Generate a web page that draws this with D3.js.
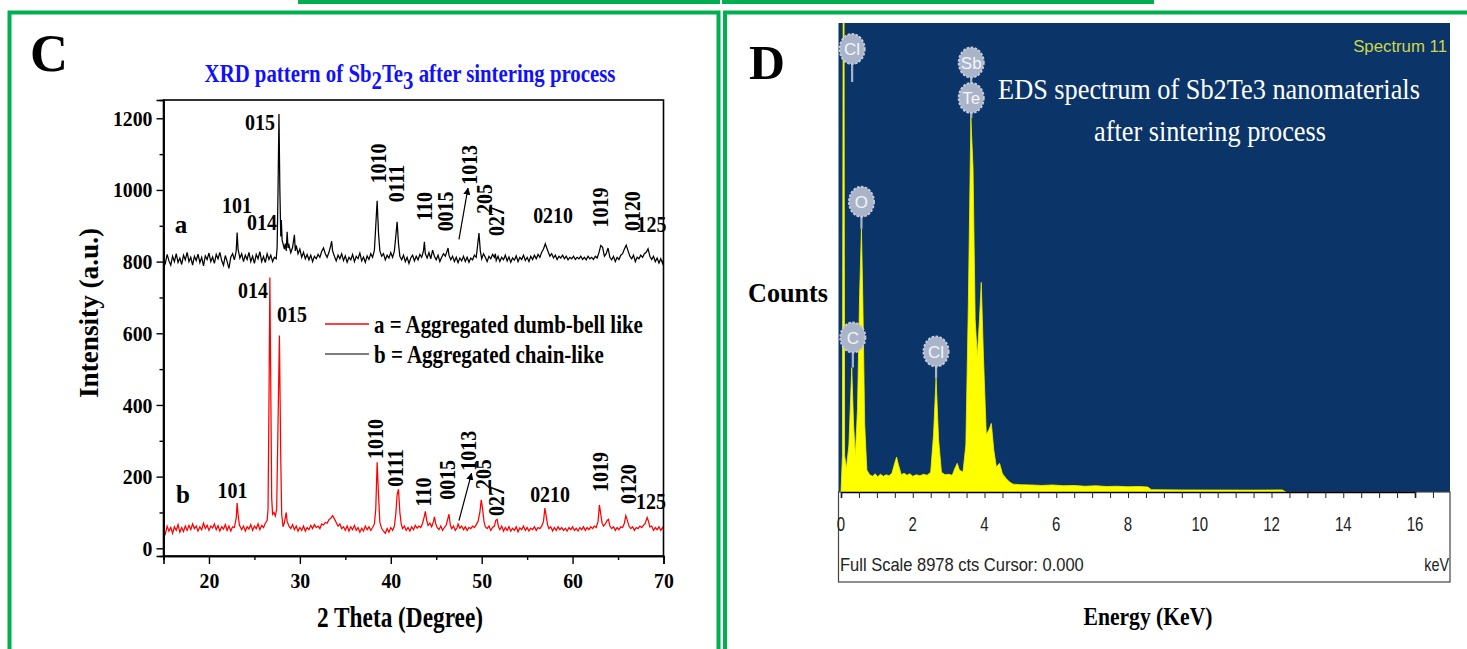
<!DOCTYPE html>
<html><head><meta charset="utf-8">
<script src="https://cdn.jsdelivr.net/npm/d3@7"></script>
<style>body{margin:0;background:#fff;} svg{display:block;}</style>
</head><body><svg id="c" width="1467" height="649"></svg>
<script>
// ---------------- DATA ----------------
const xrdTicksX = [20, 30, 40, 50, 60, 70];
const xrdMinorX = [15, 25, 35, 45, 55, 65];
const xrdTicksY = [0, 200, 400, 600, 800, 1000, 1200];
const xrdMinorY = [100, 300, 500, 700, 900, 1100];

// black trace (top, "a" label)
const xrdBlack = [
[15.0,808],[15.2,795],[15.4,820],[15.6,802],[15.8,790],[16.0,815],[16.2,800],[16.4,822],[16.6,798],[16.8,810],
[17.0,792],[17.2,818],[17.4,805],[17.6,826],[17.8,800],[18.0,812],[18.2,790],[18.4,815],[18.6,803],[18.8,821],
[19.0,797],[19.2,812],[19.4,788],[19.6,816],[19.8,806],[20.0,824],[20.2,800],[20.4,813],[20.6,795],[20.8,820],
[21.0,808],[21.2,826],[21.4,803],[21.6,790],[21.8,817],[22.0,800],[22.2,781],[22.4,812],[22.6,822],[22.8,805],
[23.0,830],[23.1,881],[23.2,835],[23.4,810],[23.6,822],[23.8,800],[24.0,818],[24.2,806],[24.4,826],[24.6,800],
[24.8,815],[25.0,795],[25.2,820],[25.4,808],[25.6,828],[25.8,800],[26.0,814],[26.2,797],[26.4,822],[26.6,806],
[26.8,818],[27.0,800],[27.2,812],[27.4,808],[27.5,840],[27.6,1000],[27.7,1212],[27.8,1000],[27.9,870],[27.96,916],
[28.05,860],[28.2,845],[28.3,835],[28.4,850],[28.5,830],[28.6,883],[28.7,838],[28.8,846],[29.0,825],[29.2,840],
[29.4,875],[29.5,830],[29.6,845],[29.8,822],[30.0,835],[30.2,812],[30.4,826],[30.6,808],[30.8,820],[31.0,805],
[31.2,818],[31.4,800],[31.6,815],[31.8,808],[32.0,820],[32.2,812],[32.4,828],[32.6,838],[32.8,822],[33.0,812],
[33.2,826],[33.4,845],[33.5,857],[33.6,830],[33.8,815],[34.0,802],[34.2,818],[34.4,808],[34.6,822],[34.8,803],
[35.0,816],[35.2,798],[35.4,812],[35.6,805],[35.8,820],[36.0,800],[36.2,815],[36.4,808],[36.6,824],[36.8,802],
[37.0,813],[37.2,798],[37.4,816],[37.6,806],[37.8,822],[38.0,812],[38.2,832],[38.35,900],[38.5,970],[38.65,880],
[38.8,830],[39.0,815],[39.2,822],[39.4,805],[39.6,818],[39.8,810],[40.0,825],[40.2,812],[40.4,830],[40.55,870],
[40.7,911],[40.85,850],[41.0,815],[41.2,805],[41.4,818],[41.6,800],[41.8,812],[42.0,795],[42.2,810],[42.4,818],
[42.6,802],[42.8,815],[43.0,805],[43.2,820],[43.4,812],[43.6,830],[43.7,855],[43.8,822],[44.0,810],[44.2,825],
[44.4,808],[44.6,832],[44.8,815],[45.0,805],[45.2,818],[45.4,800],[45.6,812],[45.8,822],[46.0,815],[46.2,830],
[46.3,838],[46.4,818],[46.6,805],[46.8,815],[47.0,800],[47.2,812],[47.4,797],[47.6,810],[47.8,802],[48.0,815],
[48.2,800],[48.4,812],[48.6,798],[48.8,810],[49.0,805],[49.2,818],[49.4,812],[49.55,845],[49.7,880],[49.85,830],
[50.0,808],[50.2,822],[50.4,812],[50.6,800],[50.8,815],[51.0,808],[51.2,820],[51.4,812],[51.5,822],[51.6,803],
[51.8,815],[52.0,800],[52.2,812],[52.4,805],[52.6,818],[52.8,802],[53.0,813],[53.2,798],[53.4,810],[53.6,804],
[53.8,816],[54.0,800],[54.2,812],[54.4,806],[54.6,818],[54.8,803],[55.0,812],[55.2,800],[55.4,815],[55.6,806],
[55.8,818],[56.0,808],[56.2,820],[56.4,812],[56.6,826],[56.8,835],[57.0,850],[57.1,842],[57.3,828],[57.5,815],
[57.7,822],[57.9,810],[58.1,818],[58.3,806],[58.5,815],[58.7,810],[58.9,818],[59.1,808],[59.3,815],[59.5,805],
[59.7,812],[59.9,808],[60.1,815],[60.3,806],[60.5,812],[60.7,808],[60.9,815],[61.1,806],[61.3,812],[61.5,805],
[61.7,815],[61.9,808],[62.1,812],[62.3,806],[62.5,815],[62.7,810],[62.9,825],[63.1,845],[63.3,840],[63.5,815],
[63.7,822],[63.9,838],[64.1,812],[64.3,805],[64.5,815],[64.7,800],[64.9,812],[65.1,806],[65.3,818],[65.5,822],
[65.7,835],[65.9,846],[66.1,830],[66.3,815],[66.5,808],[66.7,818],[66.9,800],[67.1,812],[67.3,808],[67.5,818],
[67.7,812],[67.9,822],[68.1,826],[68.3,836],[68.5,815],[68.7,806],[68.9,815],[69.1,800],[69.3,810],[69.5,796],
[69.7,808],[69.9,795],[70.0,805]];

// red trace (bottom, "b" label)
const xrdRed = [
[15.0,52],[15.2,40],[15.4,62],[15.6,48],[15.8,58],[16.0,42],[16.2,60],[16.4,50],[16.6,66],[16.8,45],
[17.0,58],[17.2,47],[17.4,62],[17.6,50],[17.8,64],[18.0,52],[18.2,68],[18.4,55],[18.6,62],[18.8,48],
[19.0,60],[19.2,52],[19.4,70],[19.6,55],[19.8,64],[20.0,50],[20.2,62],[20.4,57],[20.6,68],[20.8,52],
[21.0,63],[21.2,48],[21.4,60],[21.6,54],[21.8,66],[22.0,50],[22.2,62],[22.4,48],[22.6,60],[22.8,58],
[23.0,85],[23.1,126],[23.2,95],[23.35,65],[23.6,52],[23.8,62],[24.0,48],[24.2,60],[24.4,54],[24.6,66],
[24.8,50],[25.0,62],[25.2,55],[25.4,68],[25.6,52],[25.8,64],[26.0,58],[26.2,70],[26.4,78],[26.5,110],
[26.6,400],[26.7,756],[26.8,450],[26.9,140],[27.0,95],[27.15,100],[27.3,90],[27.45,110],[27.6,350],[27.75,594],
[27.9,250],[28.0,95],[28.15,60],[28.3,72],[28.5,100],[28.6,75],[28.8,62],[29.0,55],[29.2,66],[29.4,52],
[29.6,62],[29.8,48],[30.0,58],[30.2,50],[30.4,62],[30.6,48],[30.8,58],[31.0,52],[31.2,64],[31.4,55],
[31.6,66],[31.8,58],[32.0,62],[32.2,55],[32.4,68],[32.6,65],[32.8,72],[33.0,70],[33.2,80],[33.4,84],
[33.6,91],[33.8,82],[34.0,72],[34.2,62],[34.4,68],[34.6,55],[34.8,60],[35.0,50],[35.2,62],[35.4,48],
[35.6,60],[35.8,52],[36.0,64],[36.2,50],[36.4,58],[36.6,45],[36.8,56],[37.0,48],[37.2,62],[37.4,52],
[37.6,60],[37.8,50],[38.0,58],[38.2,68],[38.35,110],[38.5,240],[38.65,150],[38.8,72],[39.0,55],[39.2,48],
[39.4,42],[39.6,55],[39.8,45],[40.0,58],[40.2,50],[40.4,62],[40.55,95],[40.7,150],[40.85,165],[41.0,100],
[41.15,68],[41.3,55],[41.5,62],[41.7,50],[41.9,58],[42.1,48],[42.3,60],[42.5,52],[42.7,64],[42.9,56],
[43.1,62],[43.3,58],[43.5,70],[43.7,90],[43.8,103],[43.95,78],[44.1,64],[44.3,70],[44.5,60],[44.7,75],
[44.8,88],[44.95,68],[45.1,58],[45.3,52],[45.5,62],[45.7,50],[45.9,58],[46.1,65],[46.3,85],[46.4,95],
[46.55,65],[46.7,55],[46.9,62],[47.1,50],[47.3,58],[47.4,68],[47.6,56],[47.8,62],[48.0,52],[48.2,60],
[48.4,50],[48.6,58],[48.8,55],[49.0,62],[49.2,58],[49.4,66],[49.6,75],[49.8,100],[49.95,135],[50.1,110],
[50.25,75],[50.4,60],[50.6,55],[50.8,62],[51.0,50],[51.2,58],[51.4,62],[51.55,78],[51.7,81],[51.85,60],
[52.0,52],[52.2,62],[52.4,48],[52.6,58],[52.8,50],[53.0,60],[53.2,48],[53.4,56],[53.6,50],[53.8,60],
[54.0,46],[54.2,57],[54.4,52],[54.6,62],[54.8,50],[55.0,58],[55.2,48],[55.4,56],[55.6,52],[55.8,60],
[56.0,50],[56.2,58],[56.4,55],[56.6,62],[56.8,75],[56.95,112],[57.1,90],[57.25,65],[57.4,55],[57.6,60],
[57.8,48],[58.0,58],[58.2,50],[58.4,60],[58.6,52],[58.8,58],[59.0,50],[59.2,56],[59.4,48],[59.6,58],
[59.8,52],[60.0,60],[60.2,50],[60.4,56],[60.6,48],[60.8,58],[61.0,52],[61.2,60],[61.4,50],[61.6,58],
[61.8,52],[62.0,60],[62.2,55],[62.4,62],[62.6,58],[62.8,75],[62.95,121],[63.1,95],[63.25,70],[63.4,62],
[63.6,68],[63.8,78],[63.95,81],[64.1,62],[64.3,55],[64.5,60],[64.7,50],[64.9,58],[65.1,52],[65.3,60],
[65.5,58],[65.7,70],[65.85,91],[66.0,80],[66.2,62],[66.4,55],[66.6,60],[66.8,50],[67.0,58],[67.2,55],
[67.4,62],[67.6,58],[67.8,64],[68.0,70],[68.2,86],[68.35,75],[68.5,60],[68.7,62],[68.9,50],[69.1,58],
[69.3,52],[69.5,60],[69.7,50],[69.9,58],[70.0,52]];

// peak labels: [text, 2theta, intensity, rotated]
const blackLabels = [
["015",25.62,1167,false],["101",23.09,936,false],["014",25.84,888,false],
["1010",39.44,1074,true],["0111",41.46,1018,true],["110",44.54,954,true],["0015",46.85,940,true],
["1013",49.44,1070,true],["205",51.10,975,true],["027",52.40,913,true],["0210",57.85,908,false],
["1019",63.90,951,true],["0120",67.42,941,true],["125",68.68,883,false]];
const redLabels = [
["101",22.59,140,false],["014",24.85,699,false],["015",29.14,632,false],
["1010",39.15,305,true],["0111",41.35,224,true],["110",44.43,157,true],["0015",47.03,191,true],
["1013",49.38,272,true],["205",51.03,207,true],["027",52.46,132,true],["0210",57.52,129,false],
["1019",63.90,213,true],["0120",66.98,179,true],["125",68.63,110,false]];
const seriesLetters = [["a",16.93,880],["b",17.15,126]];
const arrows = [[47.50,862,48.49,1005,"#000"],[47.50,77,48.88,209,"#000"]];
const legendText = ["a = Aggregated dumb-bell like", "b = Aggregated chain-like"];
const legendColors = ["#ff0000", "#555555"];

// EDS spectrum [keV, counts]
const edsTicks = [0, 2, 4, 6, 8, 10, 12, 14, 16];
const edsMinor = [0,0.5,1,1.5,2,2.5,3,3.5,4,4.5,5,5.5,6,6.5,7,7.5,8,8.5,9,9.5,10,10.5,11,11.5,12,12.5,13,13.5,14,14.5,15,15.5,16,16.5];
const edsSpectrum = [
[0.00,0],[0.04,700],[0.06,9500],[0.085,9500],[0.10,700],[0.15,450],[0.22,900],[0.30,2380],[0.35,1300],
[0.40,700],[0.46,1600],[0.52,3800],[0.57,5040],[0.61,3600],[0.66,1300],[0.72,420],[0.80,330],
[0.88,300],[0.95,350],[1.02,290],[1.10,340],[1.18,300],[1.26,330],[1.34,310],[1.42,360],
[1.50,560],[1.55,669],[1.60,520],[1.68,330],[1.76,360],[1.84,320],[1.92,350],[2.00,300],
[2.10,330],[2.20,310],[2.30,340],[2.40,320],[2.50,380],[2.58,1100],[2.65,2173],[2.72,1000],
[2.80,380],[2.90,330],[3.00,340],[3.10,320],[3.18,460],[3.24,548],[3.30,420],[3.40,380],
[3.48,900],[3.55,3600],[3.62,7160],[3.68,6200],[3.74,3300],[3.80,2600],[3.86,3300],[3.91,4013],
[3.97,2600],[4.05,1100],[4.13,1200],[4.19,1313],[4.26,800],[4.33,480],[4.42,548],[4.50,350],
[4.60,260],[4.70,190],[4.80,150],[5.0,140],[5.3,135],[5.6,125],[5.9,135],[6.2,120],[6.5,125],
[6.8,110],[7.1,120],[7.4,105],[7.7,110],[8.0,100],[8.3,105],[8.55,95],[8.65,45],[9.5,40],
[10.5,38],[11.5,36],[12.3,40],[12.4,0]];
// element markers: [symbol, keV, label counts, stem end counts]
const edsElements = [
["Cl",0.31,8479,7850],["Sb",3.63,8221,7700],["Te",3.63,7543,7160],
["O",0.57,5555,5040],["C",0.33,2957,2383],["Cl",2.65,2689,2173]];

// ---------------- DRAW ----------------
const SERIF = "'Liberation Serif','Times New Roman',serif";
const SANS = "'Liberation Sans',Arial,sans-serif";
const svg = d3.select("#c");

function txt(g, o) {
  const gg = g.append("g").attr("transform", `translate(${o.x},${o.y})` + (o.rot ? ` rotate(${o.rot})` : ""));
  const t = gg.append("text").attr("text-anchor", o.anchor || "start")
    .attr("font-family", o.family || SERIF).attr("font-size", o.size)
    .attr("font-weight", o.weight || "bold").attr("fill", o.fill || "#000");
  if (o.parts) o.parts.forEach(p => { const s = t.append("tspan").text(p[0]); if (p[1]) s.attr("dy", p[1]); });
  else t.text(o.text);
  let sx = o.sx || 1;
  if (o.width) { const w = t.node().getBBox().width; sx = o.width / w; }
  t.attr("transform", `scale(${sx},1)`);
  return t;
}

// green frames
const GREEN = "#00b050";
svg.append("rect").attr("x", 300).attr("y", -40).attr("width", 418).attr("height", 42).attr("fill", "none").attr("stroke", GREEN).attr("stroke-width", 4);
svg.append("rect").attr("x", 724).attr("y", -40).attr("width", 428).attr("height", 42).attr("fill", "none").attr("stroke", GREEN).attr("stroke-width", 4);
svg.append("rect").attr("x", 9.5).attr("y", 12.5).attr("width", 709).attr("height", 700).attr("fill", "none").attr("stroke", GREEN).attr("stroke-width", 4);
svg.append("rect").attr("x", 725).attr("y", 12.5).attr("width", 800).attr("height", 700).attr("fill", "none").attr("stroke", GREEN).attr("stroke-width", 4);

// ---------- Panel C : XRD ----------
const x = d3.scaleLinear().domain([15, 70]).range([163.5, 663.5]);
const y = d3.scaleLinear().domain([-21.5, 1251]).range([556, 100]);
const gC = svg.append("g");

txt(gC, {x: 30, y: 71, text: "C", size: 52, width: 38});
txt(gC, {x: 410, y: 82, parts: [["XRD pattern of Sb"], ["2", 7], ["Te", -7], ["3", 7], [" after sintering process", -7]],
  size: 26, anchor: "middle", fill: "#1010ff", width: 411});

const line = d3.line().x(d => x(d[0])).y(d => y(d[1]));
gC.append("path").datum(xrdRed).attr("d", line).attr("fill", "none").attr("stroke", "#ff0000").attr("stroke-width", 1.25);
gC.append("path").datum(xrdBlack).attr("d", line).attr("fill", "none").attr("stroke", "#000").attr("stroke-width", 1.25);

// frame
gC.append("rect").attr("x", x(15)).attr("y", y(1251)).attr("width", x(70) - x(15)).attr("height", y(-21.5) - y(1251))
  .attr("fill", "none").attr("stroke", "#000").attr("stroke-width", 1.6);

// axes
const TSX = 0.9;
const ax = gC.append("g").attr("transform", `translate(0,${y(-21.5)})`)
  .call(d3.axisBottom(x).tickValues(xrdTicksX).tickSize(8).tickPadding(8).tickFormat(d3.format("d")));
ax.selectAll("text").attr("font-family", SERIF).attr("font-weight", "bold").attr("font-size", 22).attr("fill", "#000").attr("dy", "0.71em").attr("transform", `scale(${TSX},1)`);
gC.append("g").attr("transform", `translate(0,${y(-21.5)})`).call(d3.axisBottom(x).tickValues(xrdMinorX).tickSize(4).tickFormat(""));
const ay = gC.append("g").attr("transform", `translate(${x(15)},0)`)
  .call(d3.axisLeft(y).tickValues(xrdTicksY).tickSize(7).tickPadding(4).tickFormat(d3.format("d")));
ay.selectAll("text").attr("font-family", SERIF).attr("font-weight", "bold").attr("font-size", 22).attr("fill", "#000")
  .attr("x", -11 / TSX).attr("transform", `scale(${TSX},1)`);
gC.append("g").attr("transform", `translate(${x(15)},0)`).call(d3.axisLeft(y).tickValues(xrdMinorY).tickSize(4).tickFormat(""));
gC.selectAll(".domain").attr("stroke-width", 1.6);
gC.selectAll(".tick line").attr("stroke-width", 1.4);

txt(gC, {x: 400, y: 627, text: "2 Theta (Degree)", size: 30, anchor: "middle", width: 166});
txt(gC, {x: 98, y: 313, text: "Intensity (a.u.)", size: 28, anchor: "middle", rot: -90, width: 170});

// labels
const LSX = 0.83;
[blackLabels, redLabels].forEach(arr => arr.forEach(l => {
  if (l[3]) txt(gC, {x: x(l[1]), y: y(l[2]), text: l[0], size: 24, anchor: "middle", rot: -90, sx: LSX});
  else txt(gC, {x: x(l[1]), y: y(l[2]), text: l[0], size: 24, anchor: "middle", sx: LSX});
}));
seriesLetters.forEach(l => txt(gC, {x: x(l[1]), y: y(l[2]), text: l[0], size: 25, anchor: "middle"}));

// arrows
const defs = svg.append("defs");
defs.append("marker").attr("id", "ah").attr("viewBox", "0 0 10 10").attr("refX", 9).attr("refY", 5)
  .attr("markerWidth", 6).attr("markerHeight", 6).attr("orient", "auto")
  .append("path").attr("d", "M0,0 L10,5 L0,10 z").attr("fill", "#000");
arrows.forEach(a => gC.append("line").attr("x1", x(a[0])).attr("y1", y(a[1])).attr("x2", x(a[2])).attr("y2", y(a[3]))
  .attr("stroke", a[4]).attr("stroke-width", 1.2).attr("marker-end", "url(#ah)"));

// legend
legendText.forEach((t, i) => {
  const ly = 324 + i * 30;
  gC.append("line").attr("x1", 325).attr("x2", 369).attr("y1", ly).attr("y2", ly).attr("stroke", legendColors[i]).attr("stroke-width", 1.3);
  txt(gC, {x: 374, y: ly + 9, text: t, size: 25, width: i === 0 ? 269 : 230});
});

// ---------- Panel D : EDS ----------
const xE = d3.scaleLinear().domain([0, 16]).range([841, 1415]);
const yE = d3.scaleLinear().domain([0, 8978]).range([492, 23]);
const gD = svg.append("g");
const L = 838.5, R = 1450, T = 23, B = 492, BB = 582;

txt(gD, {x: 749, y: 79, text: "D", size: 48, width: 36});
txt(gD, {x: 748, y: 302, text: "Counts", size: 27, width: 80});
txt(gD, {x: 1148, y: 625, text: "Energy (KeV)", size: 26, anchor: "middle", width: 129});

gD.append("rect").attr("x", L).attr("y", T).attr("width", R - L).attr("height", B - T).attr("fill", "#0b3568");
gD.append("rect").attr("x", L).attr("y", B).attr("width", R - L).attr("height", BB - B).attr("fill", "#fff").attr("stroke", "#444").attr("stroke-width", 1.2);

defs.append("clipPath").attr("id", "edsclip").append("rect").attr("x", L).attr("y", T).attr("width", R - L).attr("height", B - T);
const area = d3.area().x(d => xE(d[0])).y0(yE(0)).y1(d => yE(d[1]));
gD.append("path").datum(edsSpectrum).attr("d", area).attr("fill", "#ffff00").attr("stroke", "#f4f400").attr("stroke-width", 0.8)
  .attr("clip-path", "url(#edsclip)");

// axis
const ae = gD.append("g").attr("transform", `translate(0,${B})`)
  .call(d3.axisBottom(xE).tickValues(edsMinor).tickSize(6).tickFormat(""));
ae.select(".domain").attr("stroke", "#000").attr("stroke-width", 1.6);
ae.selectAll(".tick line").attr("stroke", "#222");
edsTicks.forEach(t => txt(gD, {x: xE(t), y: 531, text: String(t), size: 20, family: SANS, weight: "normal", anchor: "middle", fill: "#222", sx: 0.75}));
txt(gD, {x: 840, y: 571, text: "Full Scale 8978 cts Cursor: 0.000", size: 18, family: SANS, weight: "normal", fill: "#222", width: 244});
txt(gD, {x: 1449, y: 571, text: "keV", size: 18, family: SANS, weight: "normal", fill: "#222", anchor: "end", sx: 0.8});

// titles inside
txt(gD, {x: 1447, y: 52, text: "Spectrum 11", size: 17, family: SANS, weight: "normal", fill: "#cdd54a", anchor: "end", width: 94});
txt(gD, {x: 1209, y: 99, text: "EDS spectrum of Sb2Te3 nanomaterials", size: 30, weight: "normal", fill: "#fff", anchor: "middle", width: 422});
txt(gD, {x: 1210, y: 141, text: "after sintering process", size: 30, weight: "normal", fill: "#fff", anchor: "middle", width: 232});

// element markers
const gEl = gD.append("g").attr("clip-path", "url(#edsclip)");
edsElements.forEach(e => {
  const cx = xE(e[1]), cy = yE(e[2]);
  gEl.append("line").attr("x1", cx).attr("x2", cx).attr("y1", cy + 12).attr("y2", yE(e[3])).attr("stroke", "#aab5c9").attr("stroke-width", 2.2);
  gEl.append("ellipse").attr("cx", cx).attr("cy", cy).attr("rx", 12.5).attr("ry", 15)
    .attr("fill", "#a9b4c8").attr("stroke", "#c3cad9").attr("stroke-width", 2).attr("stroke-dasharray", "2.5 1.5");
  gEl.append("text").attr("x", cx).attr("y", cy + 6).attr("text-anchor", "middle").attr("font-family", SANS)
    .attr("font-size", 17).attr("fill", "#f4f6fa").text(e[0]);
});
</script></body></html>
